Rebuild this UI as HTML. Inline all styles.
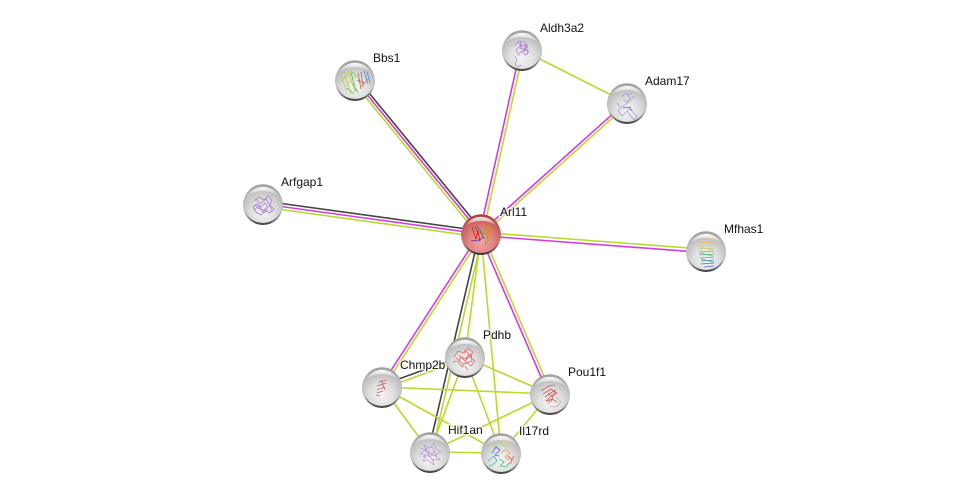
<!DOCTYPE html>
<html><head><meta charset="utf-8"><style>
html,body{margin:0;padding:0;background:#fff}
svg{display:block}
text{font-family:"Liberation Sans",sans-serif;font-size:12px;fill:#111;paint-order:stroke;stroke:rgba(255,255,255,.75);stroke-width:3px;stroke-linejoin:round}
.y{stroke:#b9d92e}.m{stroke:#d53cd8}.k{stroke:#444}
#e line{stroke-width:1.6}
.s{fill:none;stroke-width:.8;stroke-linejoin:round}
</style></head><body>
<svg width="976" height="498" viewBox="0 0 976 498" xmlns="http://www.w3.org/2000/svg">
<defs>
<radialGradient id="b" cx=".5" cy=".72" r=".72">
<stop offset="0" stop-color="#f4f4f4"/><stop offset=".45" stop-color="#dedede"/><stop offset=".8" stop-color="#bcbcbc"/><stop offset="1" stop-color="#989898"/>
</radialGradient>
<radialGradient id="br" cx=".5" cy=".72" r=".72">
<stop offset="0" stop-color="#f2a6a6"/><stop offset=".45" stop-color="#e28484"/><stop offset=".8" stop-color="#c85c5c"/><stop offset="1" stop-color="#a03838"/>
</radialGradient>
<linearGradient id="h" x1="0" y1="0" x2="0" y2="1">
<stop offset="0" stop-color="#fff" stop-opacity=".95"/><stop offset="1" stop-color="#fff" stop-opacity="0"/>
</linearGradient>
<linearGradient id="sh" x1="0" y1="0" x2="0" y2="1">
<stop offset="0" stop-color="#8a8a8a"/><stop offset=".65" stop-color="#c4c4c4"/><stop offset=".85" stop-color="#777"/><stop offset="1" stop-color="#3a3a3a"/>
</linearGradient>
<linearGradient id="shr" x1="0" y1="0" x2="0" y2="1">
<stop offset="0" stop-color="#7a2020"/><stop offset=".65" stop-color="#c88"/><stop offset=".85" stop-color="#775050"/><stop offset="1" stop-color="#3a3030"/>
</linearGradient>
<g id="n"><circle r="20" cy="1" fill="url(#sh)"/><circle r="19.4" cy="-.4" fill="url(#b)"/></g>
<g id="nr"><circle r="20" cy="1" fill="url(#shr)"/><circle r="19.4" cy="-.4" fill="url(#br)"/></g>
<g id="top"><path d="M-16-7A17.5 17 0 0 1 16-7C9-15-9-15-16-7Z" fill="url(#h)"/></g>
</defs>

<g id="e">
<line class="y" x1="522" y1="50" x2="627" y2="103"/>
<line class="k" x1="357" y1="78.2" x2="483.2" y2="232.2"/>
<line class="m" x1="355" y1="80" x2="481" y2="234"/>
<line class="y" x1="353" y1="81.8" x2="478.8" y2="235.8"/>
<line class="m" x1="520.4" y1="49.7" x2="479.4" y2="233.7"/>
<line class="y" x1="523.6" y1="50.3" x2="482.6" y2="234.3"/>
<line class="m" x1="626" y1="102" x2="480" y2="233"/>
<line class="y" x1="628" y1="104" x2="482" y2="235"/>
<line class="k" x1="263.4" y1="201" x2="481.4" y2="231"/>
<line class="m" x1="263" y1="204" x2="481" y2="234"/>
<line class="y" x1="262.6" y1="207" x2="480.6" y2="237"/>
<line class="y" x1="706.1" y1="249.3" x2="481.1" y2="232.3"/>
<line class="m" x1="705.9" y1="252.7" x2="480.9" y2="235.7"/>
<line class="m" x1="380.8" y1="386.2" x2="479.8" y2="233.2"/>
<line class="y" x1="383.2" y1="387.8" x2="482.2" y2="234.8"/>
<line class="m" x1="548.6" y1="394.6" x2="479.6" y2="234.6"/>
<line class="y" x1="551.4" y1="393.4" x2="482.4" y2="233.4"/>
<line class="y" x1="465" y1="357" x2="481" y2="234"/>
<line class="k" x1="428.3" y1="451.6" x2="479.3" y2="233.6"/>
<line class="y" x1="431.7" y1="452.4" x2="482.7" y2="234.4"/>
<line class="y" x1="501" y1="453" x2="481" y2="234"/>
<line class="k" x1="381.3" y1="385.3" x2="464.3" y2="355.3"/>
<line class="y" x1="382.7" y1="388.7" x2="465.7" y2="358.7"/>
<line class="y" x1="382" y1="387" x2="550" y2="394"/>
<line class="y" x1="382" y1="387" x2="430" y2="452"/>
<line class="y" x1="382" y1="387" x2="501" y2="453"/>
<line class="y" x1="465" y1="357" x2="550" y2="394"/>
<line class="y" x1="465" y1="357" x2="501" y2="453"/>
<line class="y" x1="465" y1="357" x2="430" y2="452"/>
<line class="y" x1="550" y1="394" x2="430" y2="452"/>
<line class="y" x1="550" y1="394" x2="501" y2="453"/>
<line class="y" x1="430" y1="452" x2="501" y2="453"/>
</g>

<g transform="translate(355,80)"><use href="#n"/>
<g class="s" stroke-width="1.1"><path d="M-14-5-8 12M-11-8-4 14M-7-9 0 12M-14 2-8-5" stroke="#a8d44a"/><path d="M-12 0-2-8M-9 6 0-4M-3-9-9-2" stroke="#d8cf50"/><path d="M-4-7 1 11M-2 3 3 13M-8 8-1 14" stroke="#55c060"/><path d="M3-7 6 9M6-8 8 7M2 0 9 3" stroke="#c0604c"/><path d="M9-9 13 4M12-8 15 3M8 5 14-2" stroke="#5c90d8"/><path d="M-4-9 2-3" stroke="#60c0b0"/></g>
<use href="#top"/></g>
<g transform="translate(522,50)"><use href="#n"/>
<path class="s" stroke="#bb8cd8" d="M-8-4-3-9 3-8 6-3 2-1 7 2 3 5-1 1-3 5-6 0-2-4 2-6M-4-8 0-3 4-6 1 2 6-1 5 5M-7 6-5 10-7 14-4 17-1 15"/>
<path class="s" stroke="#a070c8" d="M-1-8-2-2 3 0 5-6"/>
<use href="#top"/></g>
<g transform="translate(627,103)"><use href="#n"/>
<path class="s" stroke="#b49ad6" d="M-6-6-1-10 3-5 0 0-4 3-9 8-5 13 0 8 3 5 6 9 10 14 7 17 3 12 0 8M1-8 5-10M-3 5 3 4M-4-3 2-1 7-7M-7 4-10 0"/>
<path class="s" stroke="#8a60c0" stroke-width="1.4" d="M-4 5 3 4 4 8"/>
<use href="#top"/></g>
<g transform="translate(263,204)"><use href="#n"/>
<path class="s" stroke="#a97ccc" stroke-width="1.2" d="M-9-3-4-7 1-4 5-8 9-4 7 1 11 5 7 9 2 6-2 11-7 8-10 3-6 0-2 3 2-1 5 3 1 6-4 5-8 1M-7-5-3 0 3-5 6 0 9 7M-9 6-4 2 1 9 5 5"/>
<use href="#top"/></g>
<g transform="translate(706,251)"><use href="#n"/>
<g class="s" stroke-width="1"><path d="M-9-11 9-13M-9-8 9-9M-8-10 7-7" stroke="#e6c080"/><path d="M-8-5 8-6M-8-2 8-3M-7-4 7-1" stroke="#c0d860"/><path d="M-7 1 8 0M-7 4 8 3M-6 2 7 5" stroke="#60c078"/><path d="M-6 7 8 6M-5 10 8 9M-5 8 7 11" stroke="#50a0b0"/><path d="M-5 13 8 12M-2 16 8 15" stroke="#5070c8"/></g>
<use href="#top"/></g>
<g transform="translate(465,357)"><use href="#n"/>
<path class="s" stroke="#d96a6a" stroke-width="1.2" d="M-11 0-7-6-1-4 3-9 8-5 5 0 10 4 6 9 1 5-3 10-7 5-4 0 1 2 4-3-1-7M-12 5-8 4M0 9 3 13M-6-2 0 4 6-3 7 4-2 7-9 1"/>
<use href="#top"/></g>
<g transform="translate(382,387)"><use href="#n"/>
<path class="s" stroke="#d45c5c" stroke-width="2.2" d="M-3-5 5-7M-5-1 4-4M-5 3 3 0M-5 6 1 4M-1-7 3 3M-6 8-2 9"/>
<use href="#top"/></g>
<g transform="translate(550,394)"><use href="#n"/>
<path class="s" stroke="#d85656" stroke-width="1.6" d="M-9-3-1-8 5-9M-7 0 1-5 7-1 0 3-4 7 2 5 7 8M-2-1 3 3M0 6-2 10M-5 3 5-4 1 8"/>
<path class="s" stroke="#c8a8a8" d="M6 3 11 8 6 13 0 12"/>
<use href="#top"/></g>
<g transform="translate(430,452)"><use href="#n"/>
<path class="s" stroke="#bb9bd2" d="M-9-4-3-1-6-7 0-4 4-9 6-3 11 0 5 3 10 8 3 7 4 13-2 8-7 9-4 3-10 2-4-2 1 2 6-1M0-2-2 5 3 3M-7 5 0 1 7 5 2-5-5-3 3 9"/>
<use href="#top"/></g>
<g transform="translate(501,453)"><use href="#n"/>
<g class="s" stroke-width="1.3"><path d="M-1-14 4-12 7-9-2-10" stroke="#e8d080"/><path d="M-7-6-3-11 2-8 6-5" stroke="#a0d870"/><path d="M-9 0-5-6-1-3-6 2-2 3" stroke="#4a70d0"/><path d="M-13 8-7 3-4 8-9 12-12 13" stroke="#30b8c8"/><path d="M0 0 5-4 9 0 4 4 8 7" stroke="#e8a040"/><path d="M-2 6 3 9-1 13 5 14 8 10" stroke="#40c070"/><path d="M7 3 11 7 9 11 13 3" stroke="#d85050"/></g>
<use href="#top"/></g>
<g transform="translate(481,234)"><use href="#nr"/>
<g class="s" stroke-width="1.7"><path d="M-9-7-5 5-3-3-1 8M-6-8-2 2" stroke="#d01818"/><path d="M-10 7-2 6 3 3" stroke="#5030b0"/><path d="M-4-8 3 4-1-4" stroke="#308070"/><path d="M5-8 3 0 9-3 6 5 11 1M8-9 13-2" stroke="#e08a10"/><path d="M2 0 8-9 4 11 8 6" stroke="#a8a020"/><path d="M-13-2-10-5" stroke="#6aa090"/></g>
<use href="#top"/></g>

<g>
<text x="373" y="62">Bbs1</text>
<text x="540" y="32">Aldh3a2</text>
<text x="645" y="85">Adam17</text>
<text x="281" y="186">Arfgap1</text>
<text x="500" y="216">Arl11</text>
<text x="724" y="233">Mfhas1</text>
<text x="483" y="339">Pdhb</text>
<text x="568" y="376">Pou1f1</text>
<text x="400" y="369">Chmp2b</text>
<text x="448" y="434">Hif1an</text>
<text x="519" y="435">Il17rd</text>
</g>
</svg>
</body></html>
